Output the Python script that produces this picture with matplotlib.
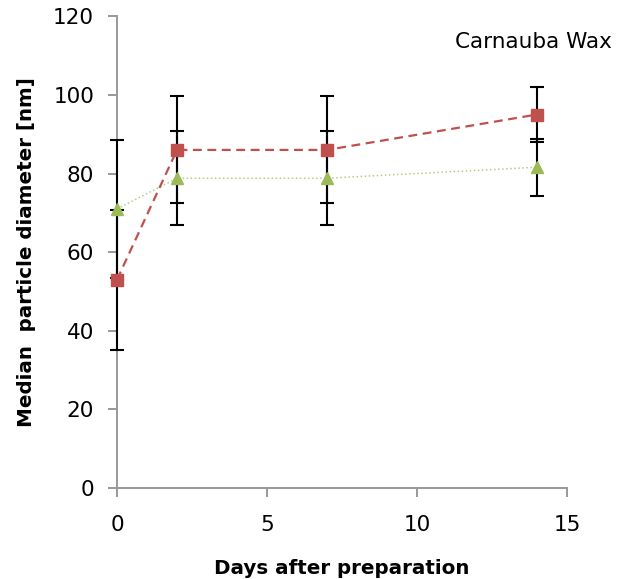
import numpy as np
import matplotlib.pyplot as plt

days = [0, 2, 7, 14]
red_vals = [53.0, 86.0, 86.0, 95.0]
red_err = [17.8, 13.6, 13.6, 6.9]
green_vals = [71.0, 78.8, 78.8, 81.6]
green_err = [17.5, 12.0, 12.0, 7.3]
yticks = [0, 20, 40, 60, 80, 100, 120]
xticks = [0, 5, 10, 15]

plt.rcParams['font.family'] = ['DejaVu Sans']

fig = plt.figure(figsize=(6.19, 5.79), dpi=100)
ax = fig.add_axes([0.189, 0.157, 0.727, 0.815])

for vals, errs in [(green_vals, green_err), (red_vals, red_err)]:
    eb = ax.errorbar(days, vals, yerr=errs, fmt='none', ecolor='black',
                     elinewidth=1.5, capsize=5, capthick=1.5, zorder=3)
    for art in eb.lines[1] + eb.lines[2]:
        art.set_clip_on(False)

ax.plot(days, green_vals, color='#B5CC85', linestyle=':', linewidth=1.1,
        marker='^', markersize=8, markerfacecolor='#9BBB59',
        markeredgecolor='#9BBB59', zorder=4, clip_on=False)
ax.plot(days, red_vals, color='#C0504D', linestyle=(0, (4, 2.5)), linewidth=1.6,
        marker='s', markersize=8, zorder=5, clip_on=False)

ax.set_xlim(0, 15)
ax.set_ylim(0, 120)
ax.set_xticks(xticks)
ax.set_yticks(yticks)
ax.tick_params(axis='both', labelsize=15.5, color='#888888', length=6.5,
               width=1.2, direction='out')
ax.tick_params(axis='y', pad=10)
ax.tick_params(axis='x', pad=13)
for s in ['top', 'right']:
    ax.spines[s].set_visible(False)
for s in ['left', 'bottom']:
    ax.spines[s].set_color('#999999')
    ax.spines[s].set_linewidth(1.4)

ax.set_xlabel('Days after preparation', fontsize=14.3, fontweight='bold', labelpad=17)
ax.set_ylabel('Median  particle diameter [nm]', fontsize=14.3, fontweight='bold', labelpad=12)
ax.text(1.1, 0.945, 'Carnauba Wax', transform=ax.transAxes, ha='right', va='center',
        fontsize=15.5)

fig.savefig('out.png', dpi=100)
